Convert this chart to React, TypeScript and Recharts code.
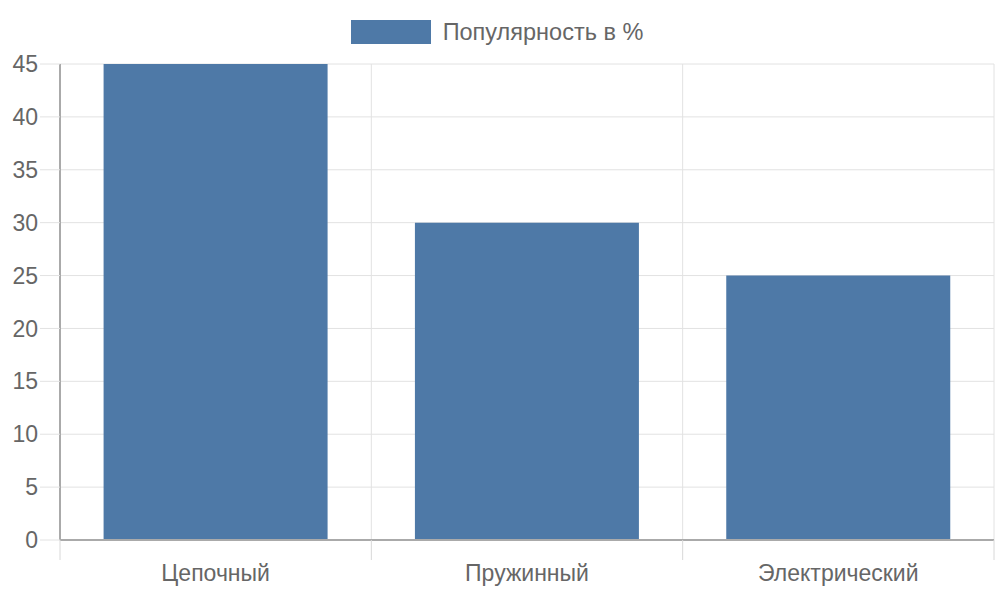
import { BarChart, Bar, XAxis, YAxis, CartesianGrid, Legend } from 'recharts'

const categories = ['Цепочный', 'Пружинный', 'Электрический']
const popularity = [45, 30, 25]
const yTicks = [0, 5, 10, 15, 20, 25, 30, 35, 40, 45]
const seriesName = 'Популярность в %'

const data = categories.map((name, i) => ({ name, value: popularity[i] }))

const FONT = '"Liberation Sans", Arial, sans-serif'
const BAR_COLOR = '#4e79a7'

function CategoryTick(props: any) {
  const { x, y, payload, index, width } = props
  const band = width / categories.length
  const isLast = index === categories.length - 1
  return (
    <g>
      <line x1={x - band / 2} x2={x - band / 2} y1={y - 8} y2={y + 12} stroke="#d8d8d8" />
      {isLast && (
        <line x1={x + band / 2} x2={x + band / 2} y1={y - 8} y2={y + 12} stroke="#d8d8d8" />
      )}
      <text x={x} y={y + 33} textAnchor="middle" fill="#666" fontSize={23} fontFamily={FONT}>
        {payload.value}
      </text>
    </g>
  )
}

function LegendContent() {
  return (
    <div style={{ height: 44, display: 'flex', justifyContent: 'center', alignItems: 'flex-start' }}>
      <div style={{ width: 80, height: 24, background: BAR_COLOR, marginRight: 12 }} />
      <span style={{ fontFamily: FONT, fontSize: 23.5, color: '#666', lineHeight: '24px' }}>{seriesName}</span>
    </div>
  )
}

export default function App() {
  return (
    <div style={{ position: 'absolute', left: 0, top: 0, width: 1000, height: 600, background: '#fff' }}>
      <BarChart
        width={1000}
        height={600}
        data={data}
        margin={{ top: 20, right: 6, left: 0, bottom: 0 }}
        barCategoryGap="14%"
      >
        <Legend verticalAlign="top" align="center" content={<LegendContent />} />
        <CartesianGrid
          stroke="#e2e2e2"
          verticalCoordinatesGenerator={({ offset }: any) =>
            [0, 1, 2, 3].map((i) => offset.left + (offset.width * i) / categories.length)
          }
        />
        <XAxis
          dataKey="name"
          height={60}
          axisLine={{ stroke: '#aaa', strokeWidth: 2 }}
          tickLine={false}
          tick={<CategoryTick />}
          interval={0}
        />
        <YAxis
          width={60}
          domain={[0, 45]}
          ticks={yTicks}
          interval={0}
          axisLine={{ stroke: '#aaa', strokeWidth: 2 }}
          tickLine={{ stroke: '#e2e2e2' }}
          tickSize={20}
          tickMargin={2}
          tick={{ fill: '#666', fontSize: 23, fontFamily: FONT }}
        />
        <Bar dataKey="value" name={seriesName} fill={BAR_COLOR} isAnimationActive={false} />
      </BarChart>
    </div>
  )
}
